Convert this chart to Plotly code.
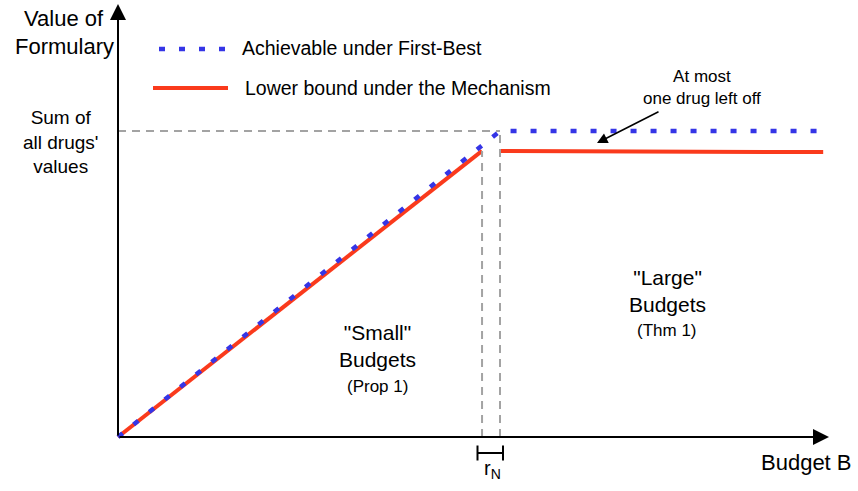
import plotly.graph_objects as go

# ---- data (budget normalised so that the full-formulary budget = 1) ----
budget_first_best = [0.0, 1.0, 1.846]
value_first_best = [0.0, 1.0, 1.0]

budget_mechanism = [0.0, 0.953, None, 1.0, 1.846]
value_mechanism = [0.0, 0.935, None, 0.935, 0.931]

r_n_start = budget_mechanism[1]
full_budget = budget_first_best[1]
sum_values = value_first_best[1]

W, H = 858, 491
X0PX, Y0PX = 118, 437           # origin in page pixels
XS, YS = 382.0, 306.0           # pixels per unit

x_range = [-X0PX / XS, (W - X0PX) / XS]
y_range = [-(H - Y0PX) / YS, Y0PX / YS]

def px(x):
    return x / W

def py(y):
    return 1 - y / H

def dx(x):
    return (x - X0PX) / XS

def dy(y):
    return (Y0PX - y) / YS

FONT = "Liberation Sans, Arial, Helvetica, sans-serif"
BLUE = "#3535e6"
RED = "#fa3a1c"
GRAY = "#a3a3a3"

fig = go.Figure()

# reference dashed lines
fig.add_shape(type="line", x0=0, x1=full_budget, y0=sum_values, y1=sum_values,
              line=dict(color=GRAY, width=2, dash="8px,6px"))
fig.add_shape(type="line", x0=r_n_start, x1=r_n_start, y0=0, y1=value_mechanism[1],
              line=dict(color=GRAY, width=2, dash="8px,6px"))
fig.add_shape(type="line", x0=full_budget, x1=full_budget, y0=0, y1=sum_values,
              line=dict(color=GRAY, width=2, dash="8px,6px"))

fig.add_trace(go.Scatter(x=budget_mechanism, y=value_mechanism, mode="lines",
                         line=dict(color=RED, width=4), connectgaps=False,
                         name="Lower bound under the Mechanism", showlegend=False,
                         hoverinfo="skip"))
fig.add_trace(go.Scatter(x=budget_first_best, y=value_first_best, mode="lines",
                         line=dict(color=BLUE, width=4.5, dash="6px,14px"),
                         name="Achievable under First-Best", showlegend=False,
                         hoverinfo="skip"))

# r_N bracket
by, bt = dy(453), 7.5 / YS
bx0, bx1 = dx(477.5), dx(503)
fig.add_shape(type="line", x0=bx0, x1=bx1, y0=by, y1=by, line=dict(color="black", width=2))
fig.add_shape(type="line", x0=bx0, x1=bx0, y0=by - bt, y1=by + bt, line=dict(color="black", width=2))
fig.add_shape(type="line", x0=bx1, x1=bx1, y0=by - bt, y1=by + bt, line=dict(color="black", width=2))

# legend samples
fig.add_shape(type="line", xref="paper", yref="paper", x0=px(159), x1=px(228),
              y0=py(49), y1=py(49), line=dict(color=BLUE, width=4.5, dash="6px,14px"))
fig.add_shape(type="line", xref="paper", yref="paper", x0=px(153), x1=px(228),
              y0=py(88), y1=py(88), line=dict(color=RED, width=4))

ann = []
# axes arrows
ann.append(dict(x=dx(829), y=0, ax=0, ay=0, xref="x", yref="y", axref="x", ayref="y",
                text="", showarrow=True, arrowhead=2, arrowsize=1.6, arrowwidth=2, arrowcolor="black"))
ann.append(dict(x=0, y=dy(4), ax=0, ay=0, xref="x", yref="y", axref="x", ayref="y",
                text="", showarrow=True, arrowhead=2, arrowsize=1.6, arrowwidth=2, arrowcolor="black"))
# "at most one drug" arrow
ann.append(dict(x=dx(597), y=dy(143), ax=dx(660), ay=dy(111),
                xref="x", yref="y", axref="x", ayref="y", text="", showarrow=True,
                arrowhead=2, arrowsize=1.4, arrowwidth=1.5, arrowcolor="black"))

def txt(x, y, s, size, xanchor="center"):
    ann.append(dict(x=px(x), y=py(y), xref="paper", yref="paper", text=s, showarrow=False,
                    xanchor=xanchor, yanchor="middle", align="center",
                    font=dict(family=FONT, size=size, color="black")))

txt(64, 18, "Value of", 22)
txt(64, 46, "Formulary", 22)
txt(61, 142, "Sum of<br>all drugs'<br>values", 19)
txt(240, 48, "Achievable under First-Best", 19.5, xanchor="left")
txt(243, 88, "Lower bound under the Mechanism", 19.5, xanchor="left")
txt(702, 88, "At most<br>one drug left off", 17)
txt(377, 346, "\"Small\"<br>Budgets", 21)
txt(377, 386, "(Prop 1)", 17)
txt(667, 291, "\"Large\"<br>Budgets", 21)
txt(667, 330, "(Thm 1)", 17)
txt(806, 462, "Budget B", 22)
txt(492, 469, "r<sub>N</sub>", 20)

fig.update_layout(
    width=W, height=H,
    margin=dict(l=0, r=0, t=0, b=0),
    paper_bgcolor="white", plot_bgcolor="white",
    xaxis=dict(range=x_range, visible=False, fixedrange=True),
    yaxis=dict(range=y_range, visible=False, fixedrange=True),
    annotations=ann,
    showlegend=False,
)

fig.write_html("out.html", config={"displayModeBar": False},
               post_script="document.body.style.margin='0';document.body.style.padding='0';")
